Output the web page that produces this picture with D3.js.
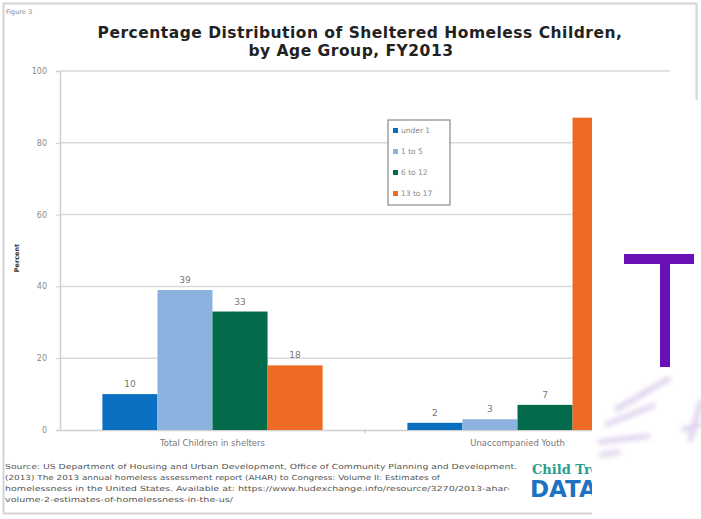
<!DOCTYPE html>
<html lang="en">
<head>
<meta charset="UTF-8">
<title>Sheltered Homeless Children by Age Group</title>
<style>
  body { margin: 0; background: #fff; }
  svg { display: block; }
</style>
</head>
<body>
<svg id="chart" width="701" height="519"></svg>
<script src="https://d3js.org/d3.v7.min.js"></script>
<script>

    // data
    var categories = ["Total Children in shelters", "Unaccompanied Youth"];
    var ageGroups = ["under 1", "1 to 5", "6 to 12", "13 to 17"];
    var under1 = [10, 2];
    var age1to5 = [39, 3];
    var age6to12 = [33, 7];
    var age13to17 = [18, 87];
    var yTicks = [0, 20, 40, 60, 80, 100];
    var colors = ["#0b6fc1", "#8cb2df", "#036a4c", "#ef6a22"];

    var series = [under1, age1to5, age6to12, age13to17];

    var svg = d3.select("#chart"),
        font = "'DejaVu Sans', Verdana, sans-serif";

    // grey frame of the figure
    svg.append("rect")
        .attr("x", 3.5).attr("y", 3.5)
        .attr("width", 693).attr("height", 510)
        .attr("fill", "none").attr("stroke", "#d4d4d4").attr("stroke-width", 2);

    svg.append("text")
        .attr("x", 6).attr("y", 14)
        .attr("font-family", font).attr("font-size", 6.5)
        .attr("fill", "#888")
        .text("Figure 3");

    // title
    var title = svg.append("text")
        .attr("font-family", font).attr("font-weight", "bold")
        .attr("font-size", 15.5).attr("fill", "#222")
        .attr("letter-spacing", 0.5)
        .attr("text-anchor", "middle");
    title.append("tspan").attr("x", 360).attr("y", 38)
        .text("Percentage Distribution of Sheltered Homeless Children,");
    title.append("tspan").attr("x", 351).attr("y", 56)
        .text("by Age Group, FY2013");

    var plotLeft = 60, plotRight = 670, plotTop = 71, plotBottom = 430;

    var x0 = d3.scaleBand().domain(categories).range([plotLeft, plotRight]).paddingInner(0).paddingOuter(0);
    var x1 = d3.scaleBand().domain(ageGroups).range([0, x0.bandwidth()]).paddingOuter(0.77).paddingInner(0);
    var y = d3.scaleLinear().domain([0, 100]).range([plotBottom, plotTop]);

    // gridlines
    svg.append("g")
        .selectAll("line")
        .data(yTicks.filter(function (d) { return d > 0; }))
        .join("line")
        .attr("x1", plotLeft).attr("x2", plotRight)
        .attr("y1", function (d) { return y(d); })
        .attr("y2", function (d) { return y(d); })
        .attr("stroke", "#d9d9d9").attr("stroke-width", 1.5);

    // y axis
    var yAxis = svg.append("g")
        .attr("transform", "translate(" + plotLeft + ",0)")
        .call(d3.axisLeft(y).tickValues(yTicks).tickSize(4).tickPadding(9));
    yAxis.select(".domain").attr("stroke", "#cfcfcf").attr("stroke-width", 1.5);
    yAxis.selectAll(".tick line").attr("stroke", "#cfcfcf");
    yAxis.selectAll(".tick text")
        .attr("font-family", font).attr("font-size", 8).attr("fill", "#8a8a8a");

    svg.append("text")
        .attr("transform", "translate(19,258) rotate(-90)")
        .attr("text-anchor", "middle")
        .attr("font-family", font).attr("font-weight", "bold")
        .attr("font-size", 6.5).attr("fill", "#333")
        .text("Percent");

    // x axis
    var xAxis = svg.append("g")
        .attr("transform", "translate(0," + plotBottom + ")")
        .call(d3.axisBottom(x0).tickSize(0).tickPadding(10));
    xAxis.select(".domain").attr("stroke", "#cfcfcf").attr("stroke-width", 1.5);
    xAxis.selectAll(".tick text")
        .attr("font-family", font).attr("font-size", 8.5).attr("fill", "#777");
    xAxis.selectAll(".sep")
        .data(categories.slice(1))
        .join("line")
        .attr("class", "sep")
        .attr("x1", function (d) { return x0(d); })
        .attr("x2", function (d) { return x0(d); })
        .attr("y1", 0).attr("y2", 3)
        .attr("stroke", "#bbb");

    // bars
    var groups = svg.append("g")
        .selectAll("g")
        .data(categories)
        .join("g")
        .attr("transform", function (d) { return "translate(" + x0(d) + ",0)"; });

    groups.each(function (cat, ci) {
        var g = d3.select(this);
        var rows = ageGroups.map(function (a, ai) { return { age: a, value: series[ai][ci], color: colors[ai] }; });
        g.selectAll("rect")
            .data(rows)
            .join("rect")
            .attr("x", function (d) { return x1(d.age); })
            .attr("width", x1.bandwidth())
            .attr("y", function (d) { return y(d.value); })
            .attr("height", function (d) { return plotBottom - y(d.value); })
            .attr("fill", function (d) { return d.color; });
        g.selectAll("text")
            .data(rows)
            .join("text")
            .attr("x", function (d) { return x1(d.age) + x1.bandwidth() / 2; })
            .attr("y", function (d) { return y(d.value) - 7; })
            .attr("text-anchor", "middle")
            .attr("font-family", font).attr("font-size", 9).attr("fill", "#777")
            .text(function (d) { return d.value; });
    });

    // legend
    var legend = svg.append("g").attr("transform", "translate(388,120)");
    legend.append("rect")
        .attr("width", 62).attr("height", 85)
        .attr("fill", "#fff").attr("stroke", "#8a8a8a").attr("stroke-width", 1.2);
    var item = legend.selectAll(".item")
        .data(ageGroups)
        .join("g")
        .attr("class", "item")
        .attr("transform", function (d, i) { return "translate(5," + (12 + i * 21) + ")"; });
    item.append("rect")
        .attr("y", -4).attr("width", 5).attr("height", 5)
        .attr("fill", function (d, i) { return colors[i]; });
    item.append("text")
        .attr("x", 8).attr("y", 1)
        .attr("font-family", font).attr("font-size", 7.5).attr("fill", "#888")
        .text(function (d) { return d; });

    // source note
    var src = svg.append("text")
        .attr("font-family", font).attr("font-size", 7).attr("fill", "#555");
    var srcLines = [
        ["Source: US Department of Housing and Urban Development, Office of Community Planning and Development.", 512],
        ["(2013) The 2013 annual homeless assessment report (AHAR) to Congress: Volume II: Estimates of", 435],
        ["homelessness in the United States. Available at: https://www.hudexchange.info/resource/3270/2013-ahar-", 505],
        ["volume-2-estimates-of-homelessness-in-the-us/", 228]
    ];
    srcLines.forEach(function (l, i) {
        src.append("tspan")
            .attr("x", 5).attr("y", 469 + i * 11)
            .attr("textLength", l[1]).attr("lengthAdjust", "spacingAndGlyphs")
            .text(l[0]);
    });

    // logo
    svg.append("text")
        .attr("x", 532).attr("y", 474)
        .attr("font-family", "'DejaVu Serif', serif").attr("font-weight", "bold")
        .attr("font-size", 13).attr("fill", "#2a9d8f")
        .text("Child Trends");
    svg.append("text")
        .attr("x", 530).attr("y", 497)
        .attr("font-family", font).attr("font-weight", "bold")
        .attr("font-size", 23).attr("fill", "#1d72c2")
        .text("DATA");

    // white patch pasted over the right side, with a purple T
    svg.append("rect")
        .attr("x", 592).attr("y", 100)
        .attr("width", 109).attr("height", 419)
        .attr("fill", "#fff");

    var defs = svg.append("defs");
    defs.append("filter").attr("id", "smudge")
        .append("feGaussianBlur").attr("stdDeviation", 2.5);

    svg.append("rect")
        .attr("x", 624).attr("y", 254).attr("width", 70).attr("height", 10)
        .attr("fill", "#6a10b8");
    svg.append("rect")
        .attr("x", 660).attr("y", 254).attr("width", 10).attr("height", 113)
        .attr("fill", "#6a10b8");

    var smear = svg.append("g").attr("filter", "url(#smudge)").attr("opacity", 0.35);
    [[598, 442, 650, 436], [605, 425, 655, 405], [615, 410, 650, 390], [640, 395, 670, 378],
     [690, 442, 701, 400], [682, 430, 701, 425], [600, 455, 620, 452]].forEach(function (s) {
        smear.append("line")
            .attr("x1", s[0]).attr("y1", s[1]).attr("x2", s[2]).attr("y2", s[3])
            .attr("stroke", "#a07ccc").attr("stroke-width", 5);
    });

</script>
</body>
</html>
